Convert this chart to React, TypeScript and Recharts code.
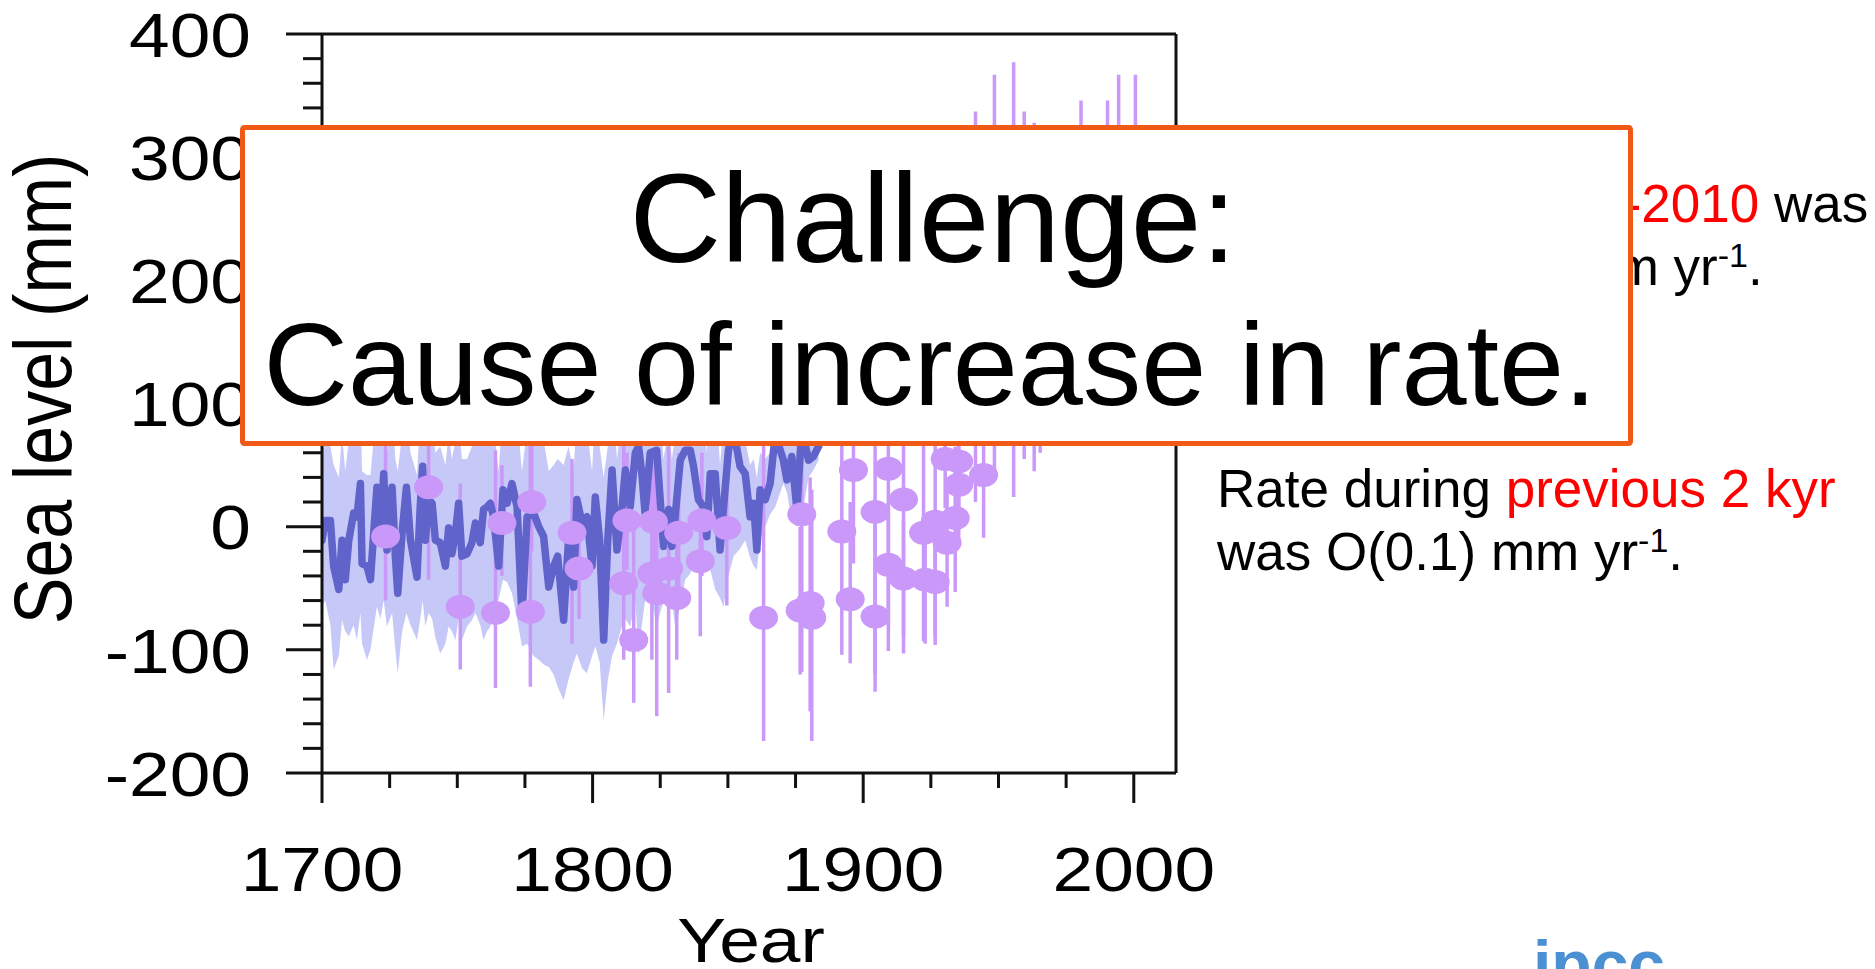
import React from "react";
import {
  ComposedChart,
  Area,
  Line,
  Scatter,
  ErrorBar,
  XAxis,
  YAxis,
  ReferenceLine,
} from "recharts";

// reconstruction (blue line + shaded band)
const YEARS = [
  1700, 1701.2, 1703.1, 1704.3, 1706.2, 1707.4, 1708.6, 1709.9, 1711.7, 1712.9,
  1714.2, 1714.8, 1716.6, 1717.9, 1720.3, 1721.6, 1722.8, 1724.0, 1725.9, 1727.1,
  1728.0, 1729.6, 1731.2, 1732.7, 1735.1, 1736.3, 1737.2, 1738.2, 1739.4, 1740.7,
  1741.9, 1743.7, 1745.6, 1746.8, 1748.0, 1749.3, 1750.5, 1751.7, 1753.6, 1755.4,
  1756.7, 1758.5, 1759.7, 1761.0, 1762.2, 1763.4, 1765.3, 1766.9, 1768.4, 1770.2,
  1772.1, 1773.9, 1775.8, 1778.2, 1780.1, 1781.9, 1783.8, 1785.6, 1787.1, 1789.3,
  1791.1, 1793.0, 1794.2, 1796.1, 1797.9, 1799.8, 1801.0, 1802.6, 1804.1, 1805.6,
  1807.2, 1809.0, 1810.9, 1812.1, 1813.9, 1815.8, 1817.0, 1818.2, 1819.4, 1821.3,
  1823.7, 1826.2, 1828.1, 1829.3, 1830.5, 1832.4, 1834.2, 1836.1, 1837.3, 1839.1,
  1841.0, 1842.2, 1843.5, 1845.3, 1847.1, 1848.4, 1850.2, 1852.1, 1854.5, 1856.4,
  1858.2, 1859.5, 1860.7, 1861.9, 1863.8, 1865.6, 1867.5, 1870.5, 1871.8, 1873.6,
  1875.5, 1877.3, 1879.8, 1881.6, 1883.5,
];
const LEVEL = [
  -11, 5, 5, -32, -51, -11, -43, -11, 11, 8,
  35, -30, -32, -43, 32, -5, 43, -19, 32, -24,
  -54, -5, 32, -11, -41, 16, 49, -11, 22, 19,
  -11, -13, -32, -1, -22, -5, 19, -24, -22, -13,
  3, -13, 14, 16, 19, 8, -32, 30, 19, 35,
  16, -73, 8, 11, 0, -8, -49, -32, -24, -76,
  -11, -49, 22, 3, 8, -32, 24, -11, -92, -11,
  46, -19, 16, 46, 16, 60, 65, 43, 11, 60,
  62, -16, 14, -16, 8, 54, 62, 62, 49, 22,
  16, -8, 43, 43, -19, 16, 62, 78, 49, 43,
  8, 19, -19, 30, 22, 35, 75, 54, 38, 57,
  14, 80, 54, 57, 65,
];
const BAND_LOW = [
  -65, -60, -80, -116, -105, -76, -85, -89, -80, -92,
  -70, -95, -108, -100, -65, -75, -60, -81, -70, -100,
  -119, -85, -70, -80, -92, -75, -60, -81, -70, -75,
  -90, -103, -95, -81, -85, -92, -75, -92, -81, -76,
  -70, -80, -92, -85, -81, -70, -59, -43, -45, -54,
  -75, -97, -95, -105, -108, -112, -114, -120, -130, -141,
  -124, -110, -103, -115, -119, -105, -97, -110, -157, -125,
  -105, -95, -80, -75, -81, -60, -105, -80, -60, -55,
  -81, -60, -45, -60, -81, -65, -43, -38, -32, -28,
  -25, -22, -35, -51, -58, -65, -40, -24, -18, -11,
  -25, -32, -35, -11, 0, 10, 16, 35, 28, 5,
  0, 8, 40, 46, 54,
];
const BAND_HIGH = [
  60, 70, 65, 50, 40, 75, 45, 70, 85, 80,
  100, 45, 42, 42, 100, 70, 110, 60, 100, 55,
  45, 75, 95, 60, 42, 90, 110, 65, 90, 85,
  60, 65, 50, 75, 55, 70, 85, 55, 55, 65,
  80, 65, 85, 90, 90, 80, 45, 100, 90, 105,
  90, 45, 80, 85, 75, 70, 45, 50, 55, 50,
  65, 45, 95, 75, 80, 45, 95, 65, 40, 65,
  115, 55, 90, 115, 90, 120, 130, 110, 85, 125,
  130, 55, 80, 55, 75, 120, 130, 130, 115, 90,
  85, 60, 110, 110, 50, 85, 130, 145, 80, 70,
  50, 55, 40, 60, 55, 60, 140, 120, 105, 120,
  80, 145, 120, 125, 130,
];

// salt-marsh / tide gauge points with error bars
const PT_YEAR = [
  1723.5, 1739.4, 1751.1, 1764.1, 1766.5, 1777.0, 1777.5, 1792.4, 1795.0, 1811.5,
  1812.7, 1815.2, 1821.9, 1822.5, 1823.7, 1828.1, 1831.1, 1831.8, 1839.8, 1840.4,
  1849.6, 1863.2, 1877.3, 1876.7, 1880.4, 1881.0, 1892.1, 1896.4, 1895.2, 1904.4,
  1904.4, 1909.3, 1909.3, 1914.9, 1914.9, 1922.3, 1922.9, 1926.6, 1926.6, 1931.0,
  1934.0, 1935.3, 1935.3, 1930.3, 1944.5, 1941.5, 1948.5, 1955.6, 1959.5, 1963.2,
  1965.4, 1980.5, 1990.3, 1994.4, 2000.6,
];
const PT_VALUE = [
  -8, 32, -65, -70, 3, -69, 20, -5, -34, -46,
  5, -92, -38, 4, -54, -34, -58, -5, -28, 5,
  -1, -74, 10, -68, -62, -74, -4, 46, -59, 12,
  -73, 47, -31, 22, -42, -5, -43, 4, -45, -13,
  7, 34, 53, 55, 42, 178, 203, 200, 196, 186,
  190, 210, 210, 225, 230,
];
const PT_LOW = [
  -60, -43, -116, -131, -40, -130, -20, -95, -75, -108,
  -35, -143, -108, -30, -154, -135, -108, -60, -89, -40,
  -64, -174, -118, -120, -150, -174, -104, -30, -111, -134,
  -120, -101, -80, -103, -90, -93, -95, -96, -90, -65,
  -53, -10, 10, 15, -9, 20, 40, 24, 55, 45,
  60, 74, 74, 84, 94,
];
const PT_HIGH = [
  75, 110, 35, 62, 50, 70, 72, 55, 15, 70,
  60, 5, 35, 55, 40, 65, 0, 60, 30, 60,
  70, 75, 90, 0, 40, 30, 96, 120, 20, 150,
  20, 190, 20, 145, 5, 85, 10, 100, 0, 40,
  65, 80, 95, 95, 95, 337, 367, 377, 337, 328,
  320, 346, 346, 367, 367,
];

const X_MAJOR = [1700, 1800, 1900, 2000];
const X_MINOR = [1725, 1750, 1775, 1825, 1850, 1875, 1925, 1950, 1975];
const Y_MAJOR = [-200, -100, 0, 100, 200, 300, 400];
const Y_MINOR = [
  -180, -160, -140, -120, -80, -60, -40, -20, 20, 40, 60, 80,
  120, 140, 160, 180, 220, 240, 260, 280, 320, 340, 360, 380,
];
const X_DOMAIN: [number, number] = [1700, 2015.6];
const Y_DOMAIN: [number, number] = [-200, 400];

const FONT = '"Liberation Sans", Arial, Helvetica, sans-serif';
const STRETCH = 1.16; // the figure is a horizontally stretched image
const PLOT = { left: 322, top: 34, right: 1176, bottom: 773 };
const CHART_W = 1300;
const CHART_H = 969;

const AXIS = "#111111";
const BLUE = "#6063C9";
const BAND = "#C6C9F7";
const PURPLE = "#C998F8";
const ORANGE = "#F05A16";

const lineData = YEARS.map((x, i) => ({
  x,
  y: LEVEL[i],
  band: [BAND_LOW[i], BAND_HIGH[i]],
}));

const pointData = PT_YEAR.map((x, i) => ({
  x,
  y: PT_VALUE[i],
  err: [PT_VALUE[i] - PT_LOW[i], PT_HIGH[i] - PT_VALUE[i]],
}));

function XTick(props: any) {
  const { x, payload } = props;
  return (
    <text
      transform={`translate(${x},${PLOT.bottom + 118}) scale(${STRETCH},1)`}
      textAnchor="middle"
      fontFamily={FONT}
      fontSize={63}
      fill="#000"
    >
      {payload.value}
    </text>
  );
}

function YTick(props: any) {
  const { y, payload } = props;
  return (
    <text
      transform={`translate(${PLOT.left - 71},${y + 22.7}) scale(${STRETCH},1)`}
      textAnchor="end"
      fontFamily={FONT}
      fontSize={63}
      fill="#000"
    >
      {payload.value}
    </text>
  );
}

function NoTick() {
  return <g />;
}

function Ellipse(props: any) {
  const { cx, cy } = props;
  if (cx == null || cy == null) return <g />;
  return <ellipse cx={cx} cy={cy} rx={14.5} ry={12} fill={PURPLE} />;
}

// axes need a non-zero size to be drawn; each one takes 1px
function SeaLevelChart() {
  const line = { stroke: AXIS, strokeWidth: 3 };
  return (
    <ComposedChart
      width={CHART_W}
      height={CHART_H}
      margin={{
        top: PLOT.top,
        left: PLOT.left - 2,
        right: CHART_W - PLOT.right,
        bottom: CHART_H - PLOT.bottom - 2,
      }}
    >
      <XAxis
        xAxisId="major"
        dataKey="x"
        type="number"
        domain={X_DOMAIN}
        allowDataOverflow
        ticks={X_MAJOR}
        interval={0}
        height={1}
        tickSize={30}
        axisLine={line}
        tickLine={line}
        tick={<XTick />}
      />
      <XAxis
        xAxisId="minor"
        dataKey="x"
        type="number"
        domain={X_DOMAIN}
        allowDataOverflow
        ticks={X_MINOR}
        interval={0}
        height={1}
        tickSize={14}
        axisLine={false}
        tickLine={line}
        tick={<NoTick />}
      />
      <YAxis
        yAxisId="major"
        dataKey="y"
        type="number"
        domain={Y_DOMAIN}
        allowDataOverflow
        ticks={Y_MAJOR}
        interval={0}
        width={1}
        tickSize={36}
        axisLine={line}
        tickLine={line}
        tick={<YTick />}
      />
      <YAxis
        yAxisId="minor"
        dataKey="y"
        type="number"
        domain={Y_DOMAIN}
        allowDataOverflow
        ticks={Y_MINOR}
        interval={0}
        width={1}
        tickSize={18}
        axisLine={false}
        tickLine={line}
        tick={<NoTick />}
      />
      <ReferenceLine xAxisId="major" yAxisId="major" y={400} stroke={AXIS} strokeWidth={3} />
      <ReferenceLine xAxisId="major" yAxisId="major" x={X_DOMAIN[1]} stroke={AXIS} strokeWidth={3} />

      {/* invisible series so the minor-tick axes get a scale */}
      <Line
        xAxisId="minor"
        yAxisId="minor"
        data={lineData}
        dataKey="y"
        stroke="none"
        strokeWidth={0}
        dot={false}
        activeDot={false}
        isAnimationActive={false}
      />

      <Area
        xAxisId="major"
        yAxisId="major"
        data={lineData}
        dataKey="band"
        type="linear"
        stroke="none"
        fill={BAND}
        fillOpacity={1}
        isAnimationActive={false}
      />
      <Scatter
        xAxisId="major"
        yAxisId="major"
        data={pointData}
        dataKey="y"
        fill={PURPLE}
        shape={<Ellipse />}
        isAnimationActive={false}
      >
        <ErrorBar
          dataKey="err"
          direction="y"
          width={0}
          stroke={PURPLE}
          strokeWidth={3.5}
          isAnimationActive={false}
        />
      </Scatter>
      <Line
        xAxisId="major"
        yAxisId="major"
        data={lineData}
        dataKey="y"
        type="linear"
        stroke={BLUE}
        strokeWidth={7.5}
        strokeLinejoin="round"
        strokeLinecap="round"
        dot={false}
        activeDot={false}
        isAnimationActive={false}
      />
    </ComposedChart>
  );
}

function Overlay() {
  const body = { fontFamily: FONT, fontSize: 53, fill: "#000" };
  return (
    <svg
      width={1875}
      height={969}
      style={{ position: "absolute", left: 0, top: 0, pointerEvents: "none" }}
    >
      {/* axis titles */}
      <text
        transform={`translate(71,389) rotate(-90) scale(1,${STRETCH})`}
        textAnchor="middle"
        fontFamily={FONT}
        fontSize={70}
        fill="#000"
      >
        Sea level (mm)
      </text>
      <text
        transform={`translate(751,962) scale(${STRETCH},1)`}
        textAnchor="middle"
        fontFamily={FONT}
        fontSize={63}
        fill="#000"
      >
        Year
      </text>

      {/* notes on the right */}
      <text x={1217} y={222} {...body}>
        Rate during <tspan fill="#FF0000">1901-2010</tspan> was
      </text>
      <text x={1217} y={285} {...body}>
        1.7 [1.5 to 1.9] mm yr
        <tspan dy={-18} fontSize={34}>-1</tspan>
        <tspan dy={18}>.</tspan>
      </text>
      <text x={1217} y={507} {...body}>
        Rate during <tspan fill="#FF0000">previous 2 kyr</tspan>
      </text>
      <text x={1217} y={570} {...body}>
        was O(0.1) mm yr
        <tspan dy={-18} fontSize={34}>-1</tspan>
        <tspan dy={18}>.</tspan>
      </text>

      {/* challenge box */}
      <rect
        x={242.5}
        y={127.5}
        width={1388}
        height={316}
        rx={2}
        fill="#fff"
        stroke={ORANGE}
        strokeWidth={5}
      />
      <text x={933} y={262} textAnchor="middle" fontFamily={FONT} fontSize={127} fill="#000">
        Challenge:
      </text>
      <text x={930} y={405} textAnchor="middle" fontFamily={FONT} fontSize={117} fill="#000">
        Cause of increase in rate.
      </text>

      {/* logo, cut by the slide edge */}
      <text x={1533} y={987} fontFamily={FONT} fontWeight="bold" fontSize={66} fill="#4A90D2">
        ipcc
      </text>
    </svg>
  );
}

export default function App() {
  return (
    <div
      style={{
        position: "absolute",
        left: 0,
        top: 0,
        width: 1875,
        height: 969,
        overflow: "hidden",
        background: "#fff",
        fontFamily: FONT,
      }}
    >
      <div style={{ position: "absolute", left: 0, top: 0 }}>
        <SeaLevelChart />
      </div>
      <Overlay />
    </div>
  );
}
